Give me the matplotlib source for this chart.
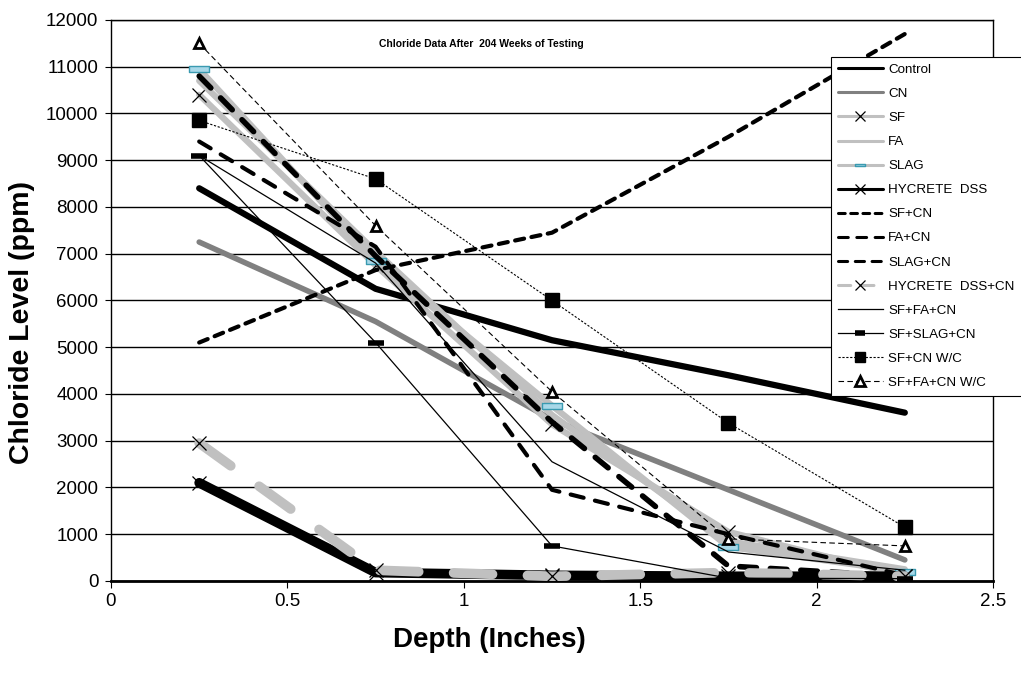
"""Chloride profiles after 204 weeks of testing."""
import numpy as np
import matplotlib
matplotlib.use("Agg")
import matplotlib.pyplot as plt
from matplotlib.path import Path

plt.rcParams["font.family"] = ["Liberation Sans", "DejaVu Sans"]

depth = [0.25, 0.75, 1.25, 1.75, 2.25]

control = [8400, 6250, 5150, 4400, 3600]
cn = [7250, 5550, 3450, 1950, 450]
sf = [10400, 6750, 3350, 1050, 100]
fa = [10700, 7050, 3550, 850, 250]
slag = [10950, 6850, 3750, 730, 200]
hycrete = [2100, 180, 120, 100, 100]
sf_cn = [5100, 6650, 7450, 9500, 11700]
fa_cn = [9400, 7150, 1950, 1000, 120]
slag_cn = [10800, 6950, 3400, 320, 100]
hycrete_cn = [2950, 230, 100, 180, 100]
sf_fa_cn = [9100, 6800, 2550, 620, 230]
sf_slag_cn = [9100, 5100, 750, 60, 50]
sf_cn_wc = [9850, 8600, 6000, 3380, 1150]
sf_fa_cn_wc = [11500, 7600, 4050, 900, 750]

labels = ["Control", "CN", "SF", "FA", "SLAG", "HYCRETE  DSS", "SF+CN", "FA+CN",
          "SLAG+CN", "HYCRETE  DSS+CN", "SF+FA+CN", "SF+SLAG+CN", "SF+CN W/C",
          "SF+FA+CN W/C"]

rect = Path([(-1, -0.3), (1, -0.3), (1, 0.3), (-1, 0.3), (-1, -0.3)],
            [Path.MOVETO, Path.LINETO, Path.LINETO, Path.LINETO, Path.CLOSEPOLY])

light = "#c0c0c0"
mid = "#808080"
caps = dict(solid_capstyle="round", dash_capstyle="round")

fig = plt.figure(figsize=(10.21, 6.75), dpi=100)
ax = fig.add_axes([0.1087, 0.1393, 0.8639, 0.8311])

ax.plot(depth, control, color="black", lw=4.5, label=labels[0], zorder=3, **caps)
ax.plot(depth, cn, color=mid, lw=4, label=labels[1], zorder=3, **caps)
ax.plot(depth, sf, color=light, lw=4.5, marker="x", ms=10, mec="black", mew=0.9,
        label=labels[2], zorder=3, **caps)
ax.plot(depth, fa, color=light, lw=4.5, label=labels[3], zorder=3, **caps)
ax.plot(depth, slag, color=light, lw=4.5, marker=rect, ms=14, mfc="#a8d8e8",
        mec="#3a9ab0", mew=1, label=labels[4], zorder=3, **caps)
ax.plot(depth, hycrete, color="black", lw=7, marker="x", ms=10, mec="black", mew=0.9,
        label=labels[5], zorder=3, **caps)
ax.plot(depth, sf_cn, color="black", lw=3, dashes=(2.2, 1.8), label=labels[6],
        zorder=4, **caps)
ax.plot(depth, fa_cn, color="black", lw=3, dashes=(3.2, 2.8), label=labels[7],
        zorder=4, **caps)
ax.plot(depth, slag_cn, color="black", lw=4, dashes=(3, 2.5), label=labels[8],
        zorder=4, **caps)
ax.plot(depth, hycrete_cn, color=light, lw=7, dashes=(4, 3.6), marker="x", ms=10,
        mec="black", mew=0.9, label=labels[9], zorder=4, **caps)
ax.plot(depth, sf_fa_cn, color="black", lw=0.9, label=labels[10], zorder=5)
ax.plot(depth, sf_slag_cn, color="black", lw=0.9, marker="_", ms=12, mew=4,
        label=labels[11], zorder=5)
ax.plot(depth, sf_cn_wc, color="black", lw=0.8, dashes=(2, 1.5), marker="s", ms=10,
        label=labels[12], zorder=5)
ax.plot(depth, sf_fa_cn_wc, color="black", lw=0.8, dashes=(5, 3), marker="^", ms=7,
        mfc="white", mec="black", mew=2, label=labels[13], zorder=5)

ax.set_xlim(0, 2.5)
ax.set_ylim(0, 12000)
ax.set_xticks(np.arange(0, 2.51, 0.5))
ax.set_xticklabels(["0", "0.5", "1", "1.5", "2", "2.5"])
ax.set_yticks(np.arange(0, 12001, 1000))
ax.yaxis.grid(True, color="black", lw=1)
ax.set_axisbelow(True)
ax.tick_params(axis="both", labelsize=13.5, direction="out", length=5, color="black")
ax.tick_params(axis="y", length=4, pad=5)
for s in ax.spines.values():
    s.set_color("black")
    s.set_linewidth(1)
ax.spines["bottom"].set_linewidth(2)

ax.set_xlabel("Depth (Inches)", fontsize=20, fontweight="bold")
ax.xaxis.set_label_coords(0.4286, -0.082)
ax.set_ylabel("Chloride Level (ppm)", fontsize=20.5, fontweight="bold")
ax.yaxis.set_label_coords(-0.086, 0.46)
ax.text(0.4195, 0.957, "Chloride Data After  204 Weeks of Testing", transform=ax.transAxes,
        ha="center", va="center", fontsize=7.5, fontweight="bold")

leg = fig.legend(loc="upper left", bbox_to_anchor=(0.8139, 0.9156, 0.19, 0.0),
                 mode="expand", fontsize=9.6, handlelength=3.4, labelspacing=0.88,
                 borderpad=0.5, handletextpad=0.4, frameon=True, fancybox=False,
                 framealpha=1, edgecolor="black", borderaxespad=0)
leg.get_frame().set_linewidth(0.8)
# thinner lines and smaller markers in the key, as in the original
for h in leg.get_lines():
    h.set_linewidth(min(h.get_linewidth(), 2.2))
    h.set_markersize(min(h.get_markersize(), 7))

fig.savefig("out.png", dpi=100)
